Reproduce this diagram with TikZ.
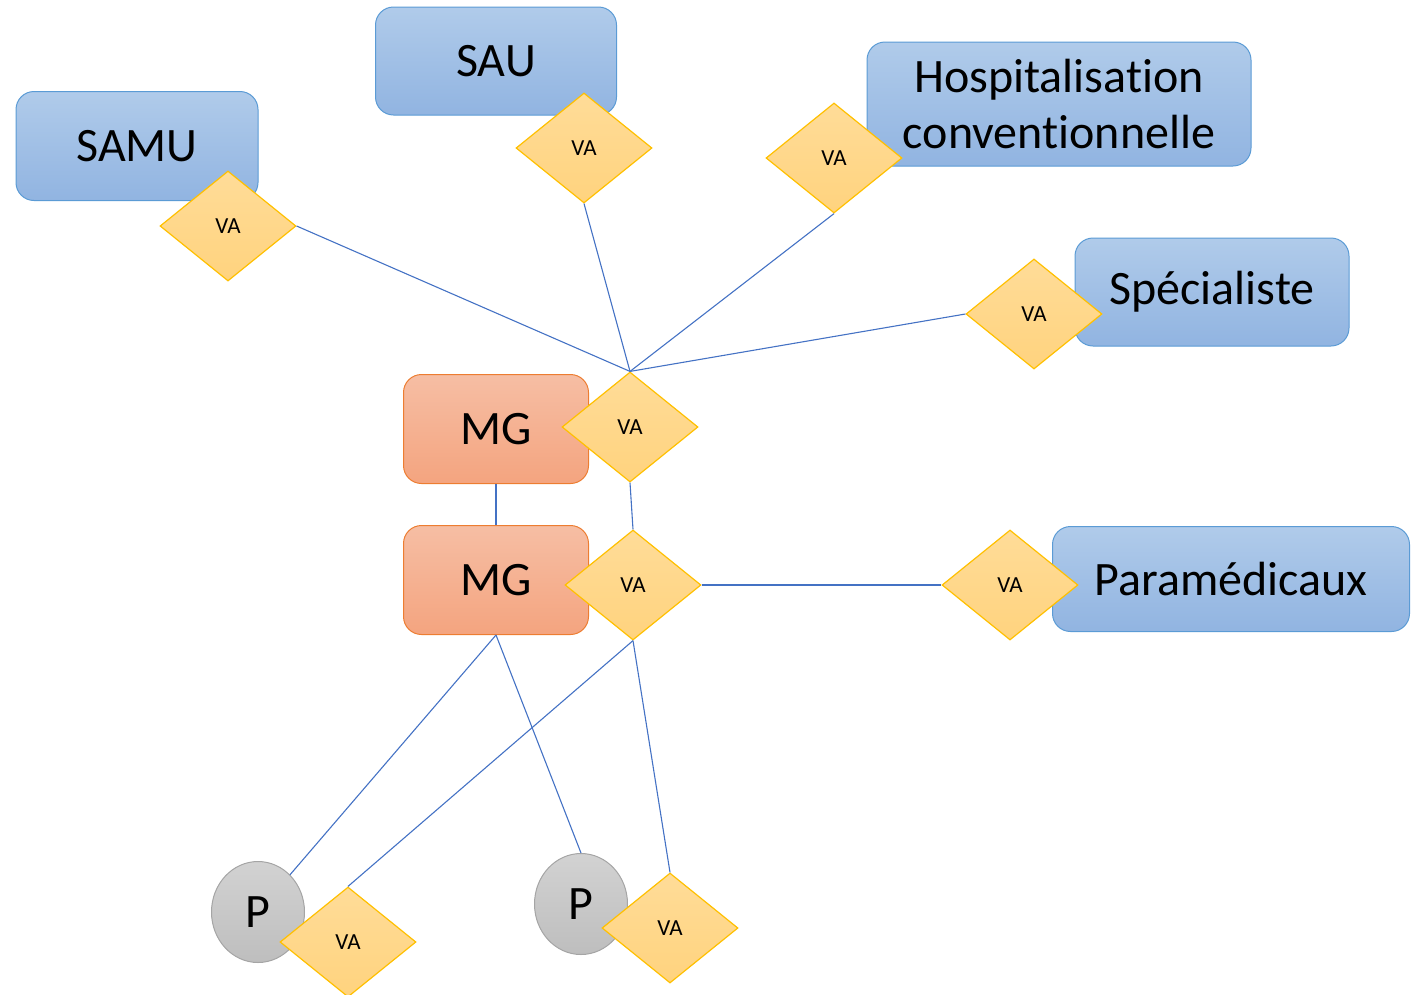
\documentclass[tikz,border=0pt]{standalone}
\usepackage{fontspec}
\setmainfont[Ligatures=NoCommon]{Carlito}
\usetikzlibrary{shapes.geometric}
\definecolor{bluetop}{HTML}{B0CBEA}
\definecolor{bluebot}{HTML}{91B4E1}
\definecolor{blueline}{HTML}{5B9BD5}
\definecolor{orgtop}{HTML}{F6BEA4}
\definecolor{orgbot}{HTML}{F4A47F}
\definecolor{orgline}{HTML}{ED7D31}
\definecolor{yeltop}{HTML}{FFDC98}
\definecolor{yelbot}{HTML}{FFD37E}
\definecolor{yelline}{HTML}{FFC000}
\definecolor{graytop}{HTML}{D2D2D2}
\definecolor{graybot}{HTML}{BEBEBE}
\definecolor{grayline}{HTML}{A5A5A5}
\definecolor{conn}{HTML}{4472C4}
\tikzset{
  bluebox/.style={draw=blueline, line width=1pt, rounded corners=18pt, top color=bluetop, bottom color=bluebot, inner sep=0pt, font=\fontsize{48}{56}\selectfont, align=center},
  mgbox/.style={draw=orgline, line width=1pt, rounded corners=18pt, top color=orgtop, bottom color=orgbot, inner sep=0pt, minimum width=185pt, minimum height=109pt, font=\fontsize{48}{56}\selectfont},
  vadia/.style={diamond, aspect=1, draw=yelline, line width=1.2pt, top color=yeltop, bottom color=yelbot, inner sep=0pt, minimum width=136pt, minimum height=110pt, font=\fontsize{23}{26}\selectfont},
  pell/.style={ellipse, draw=grayline, line width=1pt, top color=graytop, bottom color=graybot, inner sep=0pt, minimum width=93pt, minimum height=101pt, font=\fontsize{48}{56}\selectfont},
  link/.style={draw=conn, line width=1.1pt}
}
\begin{document}
\begin{tikzpicture}[x=1pt,y=-1pt]
\useasboundingbox (0,0) rectangle (1415,994);
% entity boxes
\node[bluebox, minimum width=242pt, minimum height=109pt] (samu) at (137,146) {SAMU};
\node[bluebox, minimum width=241pt, minimum height=108pt] (sau) at (496,61) {SAU};
\node[bluebox, minimum width=384pt, minimum height=124pt] (hosp) at (1059,104) {Hospitalisation\\conventionnelle};
\node[bluebox, minimum width=274pt, minimum height=108pt] (spec) at (1212,292) {Spécialiste};
\node[bluebox, minimum width=357pt, minimum height=105pt] (para) at (1231,579) {Paramédicaux};
\node[mgbox] (mga) at (496,429) {MG};
\node[mgbox] (mgb) at (496,580) {MG};
\node[pell] (pa) at (258,912) {P};
\node[pell] (pb) at (581,904) {P};
% diamonds
\node[vadia] (dsamu) at (228,226) {VA};
\node[vadia] (dsau) at (584,148) {VA};
\node[vadia] (dhosp) at (834,158) {VA};
\node[vadia] (dspec) at (1034,314) {VA};
\node[vadia] (dmga) at (630,427) {VA};
\node[vadia] (dmgb) at (633,585) {VA};
\node[vadia] (dpara) at (1010,585) {VA};
\node[vadia] (dpa) at (348,942) {VA};
\node[vadia] (dpb) at (670,928) {VA};
% connectors
\draw[link] (dsamu.east) -- (dmga.north);
\draw[link] (dsau.south) -- (dmga.north);
\draw[link] (dhosp.south) -- (dmga.north);
\draw[link] (dspec.west) -- (dmga.north);
\draw[link] (mga.south) -- (mgb.north);
\draw[link] (dmga.south) -- (dmgb.north);
\draw[link] (dmgb.east) -- (dpara.west);
\draw[link] (mgb.south) -- (pa);
\draw[link] (mgb.south) -- (pb.north);
\draw[link] (dmgb.south) -- (dpa.north);
\draw[link] (dmgb.south) -- (dpb.north);
\end{tikzpicture}
\end{document}
